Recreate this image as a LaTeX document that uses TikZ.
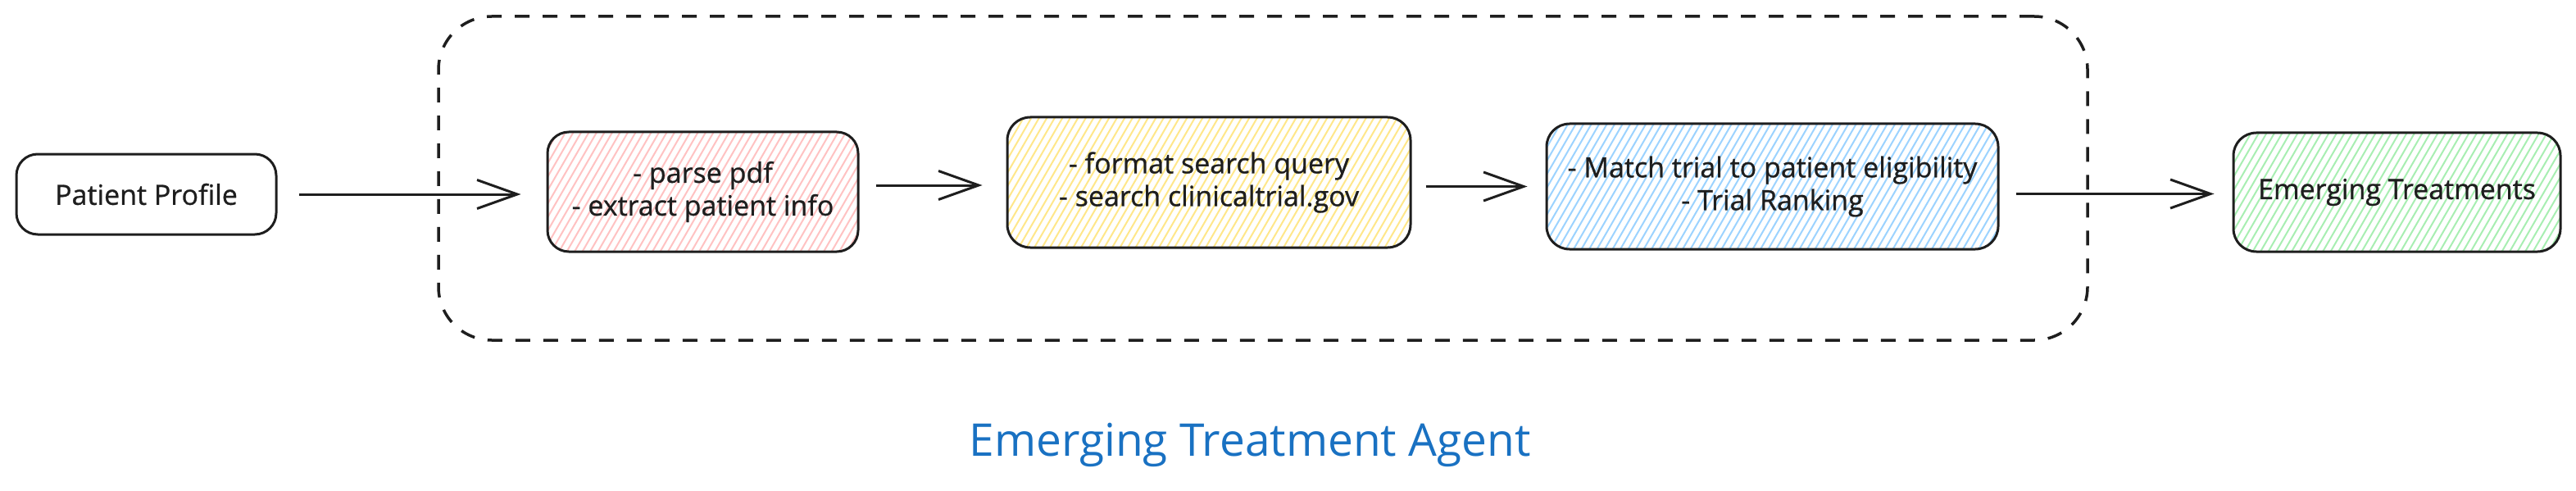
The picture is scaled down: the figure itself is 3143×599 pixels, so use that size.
\documentclass[tikz,border=0pt]{standalone}
\usepackage{fontspec}
\setmainfont{Open Sans}
\newfontfamily\handfam[FakeBold=0.8]{Open Sans}
\usetikzlibrary{arrows.meta,calc}
\definecolor{ink}{HTML}{1E1E1E}
\definecolor{redfill}{HTML}{FFC2C2}
\definecolor{yelfill}{HTML}{FFE78A}
\definecolor{bluefill}{HTML}{9CD3FF}
\definecolor{greenfill}{HTML}{A8EEB2}
\definecolor{titleblue}{HTML}{1971C2}
\newcommand\hfnt{\handfam\fontsize{34pt}{40pt}\selectfont}
\tikzset{
  hatch/.style={path picture={\foreach \k in {0,...,75}{\draw[#1,line width=2pt] ([xshift={\k*9.5pt-100pt}]path picture bounding box.south west) -- ++(60:200pt);}}},
  box/.style={draw=ink, line width=3pt, rounded corners=26pt, align=center, font=\hfnt, text=ink, inner sep=0pt},
  arr/.style={draw=ink, line width=3pt, -{Straight Barb[length=49pt,width=35pt,line width=3pt]}},
  groupbox/.style={draw=ink, line width=3.5pt, dash pattern=on 18pt off 16pt, rounded corners=65pt, inner sep=0pt},
  titletext/.style={font=\fontsize{55pt}{66pt}\selectfont, text=titleblue, inner sep=0pt}
}
\begin{document}
\begin{tikzpicture}[x=1pt,y=-1pt]
\useasboundingbox (0,0) rectangle (3143,599);
\node[groupbox, minimum width=2012pt, minimum height=395pt] (group) at (1541,217.5) {};
\node[box, minimum width=317pt, minimum height=98pt] (pp) at (178.5,237) {Patient Profile};
\node[box, hatch=redfill, minimum width=379pt, minimum height=146pt] (red) at (857.5,234) {- parse pdf\\- extract patient info};
\node[box, hatch=yelfill, minimum width=492pt, minimum height=159pt, rounded corners=28pt] (yel) at (1475,222.5) {- format search query\\- search clinicaltrial.gov};
\node[box, hatch=bluefill, minimum width=551pt, minimum height=153pt, rounded corners=28pt] (blue) at (2162.5,227.5) {- Match trial to patient eligibility\\- Trial Ranking};
\node[box, hatch=greenfill, minimum width=399pt, minimum height=145pt, rounded corners=28pt] (green) at (2924.5,234.5) {Emerging Treatments};
\node[titletext] (title) at (1525,543) {Emerging Treatment Agent};
\draw[arr, shorten <=26pt, shorten >=31pt] (pp.east) -- (pp.east -| red.west);
\draw[arr, shorten <=20pt, shorten >=29pt] ([yshift=8pt]red.east) -- ([yshift=8pt]red.east -| yel.west);
\draw[arr, shorten <=17pt, shorten >=22pt] (yel.east |- blue.west) -- (blue.west);
\draw[arr, shorten <=20pt, shorten >=22pt] ([yshift=-2pt]blue.east |- green.west) -- ([yshift=-2pt]green.west);
\end{tikzpicture}
\end{document}
